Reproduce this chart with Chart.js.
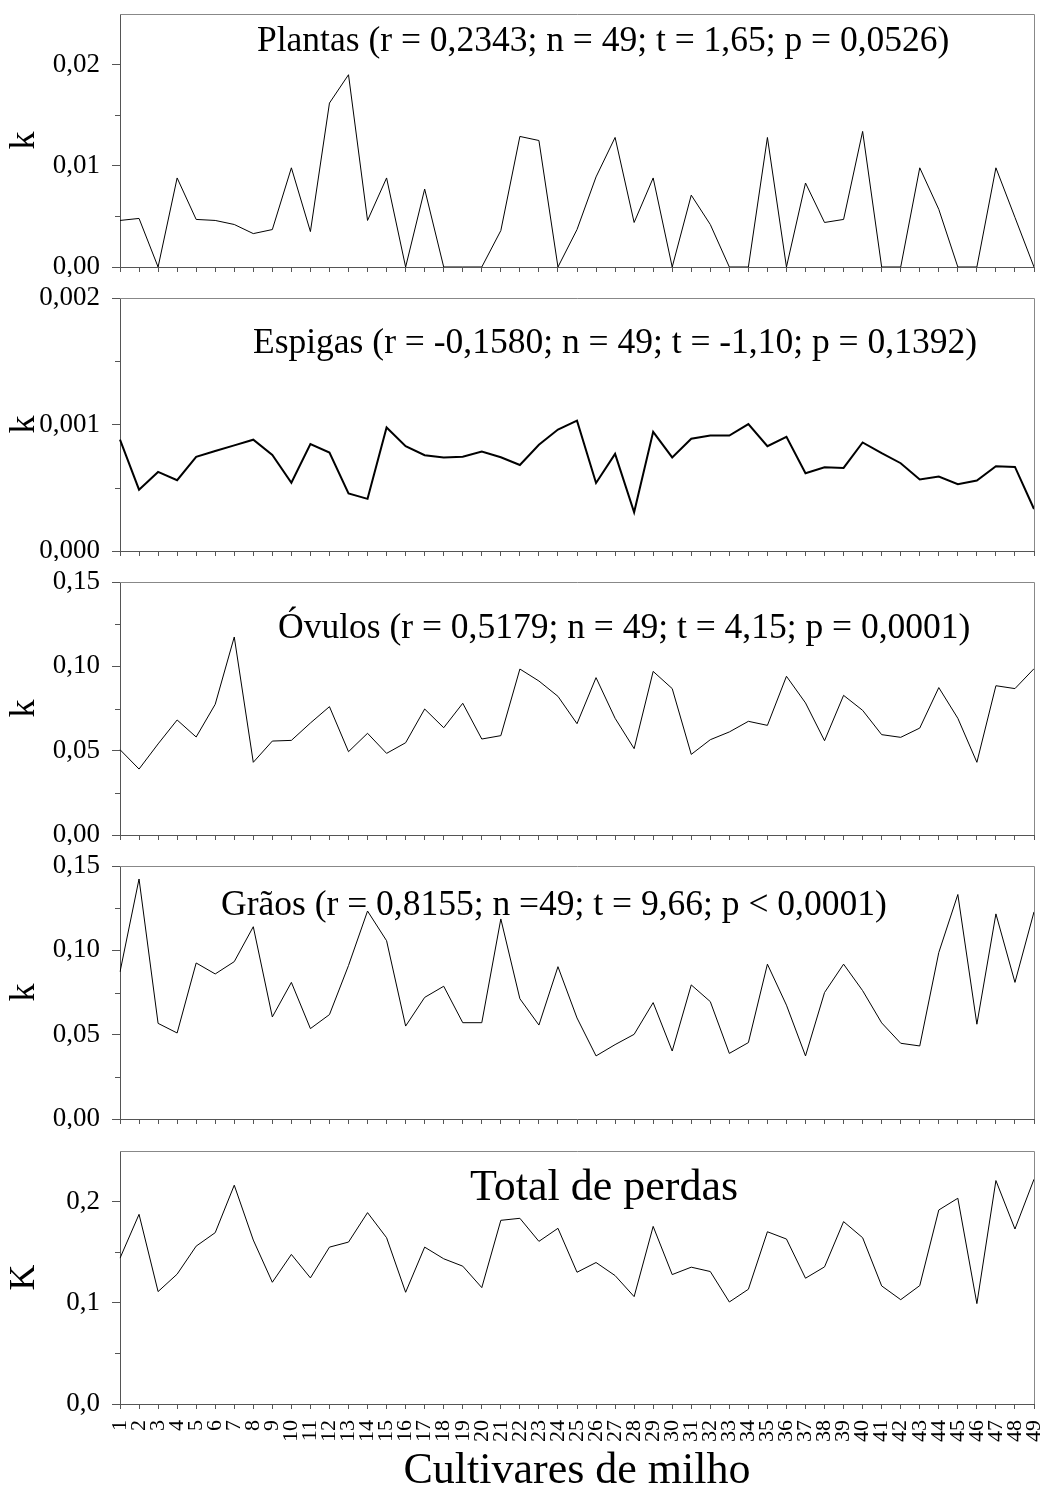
<!DOCTYPE html>
<html>
<head>
<meta charset="utf-8">
<script src="https://cdn.jsdelivr.net/npm/chart.js@4.4.1/dist/chart.umd.min.js"></script>
<style>
  body { margin: 0; background: #fff; }
  #wrap { position: relative; width: 1045px; height: 1499px; }
  canvas { position: absolute; left: 0; }
</style>
</head>
<body>
<div id="wrap"></div>
<script>
// cultivares 1..49
const cultivares = ['1','2','3','4','5','6','7','8','9','10','11','12','13','14','15','16','17','18','19','20',
  '21','22','23','24','25','26','27','28','29','30','31','32','33','34','35','36','37','38','39','40',
  '41','42','43','44','45','46','47','48','49'];

// k values
const plantas = [0.0046, 0.0048, 0, 0.0088, 0.0047, 0.0046, 0.0042, 0.0033, 0.0037, 0.0098,
  0.0035, 0.0162, 0.0190, 0.0046, 0.0088, 0, 0.0077, 0, 0, 0,
  0.0036, 0.0129, 0.0125, 0, 0.0037, 0.0089, 0.0128, 0.0044, 0.0088, 0,
  0.0071, 0.0042, 0, 0, 0.0128, 0, 0.0083, 0.0044, 0.0047, 0.0134,
  0, 0, 0.0098, 0.0057, 0, 0, 0.0098, 0.0049, 0];

const espigas = [0.00088, 0.000485, 0.000625, 0.00056, 0.000745, 0.00079, 0.000835, 0.00088, 0.00076, 0.00054,
  0.000845, 0.000778, 0.000455, 0.000412, 0.000976, 0.000828, 0.000757, 0.00074, 0.000745, 0.000786,
  0.000741, 0.00068, 0.00084, 0.00096, 0.00103, 0.000538, 0.000768, 0.000306, 0.000942, 0.00074,
  0.000887, 0.000913, 0.000913, 0.001003, 0.000828, 0.000902, 0.000615, 0.000662, 0.000657, 0.000858,
  0.000773, 0.000694, 0.000565, 0.000588, 0.000528, 0.000557, 0.00067, 0.000665, 0.000332];

const ovulos = [0.0506, 0.0391, 0.054, 0.0682, 0.0581, 0.0775, 0.1174, 0.0431, 0.0557, 0.0561,
  0.0664, 0.0761, 0.0494, 0.0603, 0.0484, 0.0547, 0.0747, 0.0636, 0.0781, 0.0569,
  0.0589, 0.0984, 0.0913, 0.0822, 0.066, 0.0933, 0.0692, 0.0512, 0.097, 0.0868,
  0.0478, 0.0565, 0.0611, 0.0674, 0.065, 0.0941, 0.0783, 0.0559, 0.0828, 0.0739,
  0.0595, 0.0579, 0.0634, 0.0874, 0.0692, 0.0431, 0.0885, 0.0868, 0.0986];

const graos = [0.0872, 0.1423, 0.0567, 0.051, 0.0925, 0.086, 0.0933, 0.114, 0.0605, 0.081,
  0.0536, 0.0619, 0.091, 0.1233, 0.1057, 0.0551, 0.0721, 0.0787, 0.0571, 0.0571,
  0.1186, 0.0713, 0.0557, 0.0903, 0.0599, 0.0374, 0.0441, 0.0502, 0.069, 0.0403,
  0.0795, 0.0696, 0.0389, 0.0453, 0.0918, 0.0675, 0.0374, 0.075, 0.0918, 0.0761,
  0.057, 0.0449, 0.0433, 0.0987, 0.1331, 0.0562, 0.1216, 0.081, 0.1228];

const total = [0.1441, 0.1874, 0.1111, 0.1283, 0.156, 0.1693, 0.2162, 0.162, 0.1203, 0.1478,
  0.1246, 0.155, 0.16, 0.1891, 0.1643, 0.1104, 0.155, 0.1435, 0.1362, 0.115,
  0.1815, 0.1835, 0.1607, 0.1736, 0.1302, 0.1398, 0.1269, 0.1061, 0.1755, 0.1279,
  0.1352, 0.1309, 0.1008, 0.1134, 0.1702, 0.163, 0.1243, 0.1355, 0.1802, 0.1643,
  0.1167, 0.1031, 0.117, 0.1917, 0.2033, 0.0992, 0.2208, 0.1729, 0.2221];

// y tick values / labels per panel
const ticksPlantas = [0, 0.01, 0.02];
const labelsPlantas = ['0,00', '0,01', '0,02'];
const ticksEspigas = [0, 0.001, 0.002];
const labelsEspigas = ['0,000', '0,001', '0,002'];
const ticksOvulos = [0, 0.05, 0.10, 0.15];
const labelsOvulos = ['0,00', '0,05', '0,10', '0,15'];
const ticksGraos = [0, 0.05, 0.10, 0.15];
const labelsGraos = ['0,00', '0,05', '0,10', '0,15'];
const ticksTotal = [0, 0.1, 0.2];
const labelsTotal = ['0,0', '0,1', '0,2'];

const FONT = '"Liberation Serif", "Times New Roman", serif';
const AXIS = '#555';

const panels = [
  { data: plantas, max: 0.025, ticks: ticksPlantas, labels: labelsPlantas, minor: [0.005, 0.015],
    yTitle: 'k', text: 'Plantas (r = 0,2343; n = 49; t = 1,65; p = 0,0526)', tx: 137, ty: 37, tSize: 35.5,
    top: 14, lw: 1 },
  { data: espigas, max: 0.002, ticks: ticksEspigas, labels: labelsEspigas, minor: [0.0005, 0.0015],
    yTitle: 'k', text: 'Espigas (r = -0,1580; n = 49; t = -1,10; p = 0,1392)', tx: 133, ty: 55, tSize: 35.5,
    top: 298, lw: 2 },
  { data: ovulos, max: 0.15, ticks: ticksOvulos, labels: labelsOvulos, minor: [0.025, 0.075, 0.125],
    yTitle: 'k', text: 'Óvulos (r = 0,5179; n = 49; t = 4,15; p = 0,0001)', tx: 158, ty: 56, tSize: 35.5,
    top: 582, lw: 1 },
  { data: graos, max: 0.15, ticks: ticksGraos, labels: labelsGraos, minor: [0.025, 0.075, 0.125],
    yTitle: 'k', text: 'Grãos (r = 0,8155; n =49; t = 9,66; p < 0,0001)', tx: 101, ty: 49, tSize: 35.5,
    top: 866, lw: 1 },
  { data: total, max: 0.25, ticks: ticksTotal, labels: labelsTotal, minor: [0.05, 0.15],
    yTitle: 'K', text: 'Total de perdas', tx: 350, ty: 49, tSize: 44,
    top: 1151, lw: 1, last: true }
];

const PLOT_H = 253;
const PAD_TOP = 14;
const wrap = document.getElementById('wrap');

panels.forEach(p => {
  const xH = p.last ? (1499 - (p.top - PAD_TOP) - PAD_TOP - PLOT_H) : 10;
  const h = PAD_TOP + PLOT_H + xH;
  const canvas = document.createElement('canvas');
  canvas.width = 1045;
  canvas.height = h;
  canvas.style.top = (p.top - PAD_TOP) + 'px';
  canvas.style.width = '1045px';
  canvas.style.height = h + 'px';
  wrap.appendChild(canvas);

  // frame on top/right, short minor ticks, panel caption
  const decor = {
    id: 'decor',
    afterDraw(chart) {
      const { ctx, chartArea: a } = chart;
      const ys = chart.scales.y;
      ctx.save();
      ctx.strokeStyle = '#888';
      ctx.lineWidth = 1;
      ctx.beginPath();
      ctx.moveTo(Math.round(a.left), Math.round(a.top) + 0.5);
      ctx.lineTo(Math.round(a.right) + 0.5, Math.round(a.top) + 0.5);
      ctx.lineTo(Math.round(a.right) + 0.5, Math.round(a.bottom));
      ctx.stroke();
      ctx.strokeStyle = AXIS;
      ctx.beginPath();
      p.minor.forEach(v => {
        const y = Math.round(ys.getPixelForValue(v)) + 0.5;
        ctx.moveTo(a.left - 5, y);
        ctx.lineTo(a.left, y);
      });
      ctx.stroke();
      ctx.fillStyle = '#000';
      ctx.font = p.tSize + 'px ' + FONT;
      ctx.textAlign = 'left';
      ctx.textBaseline = 'alphabetic';
      ctx.fillText(p.text, a.left + p.tx, a.top + p.ty);
      ctx.restore();
    }
  };

  new Chart(canvas, {
    type: 'line',
    data: {
      labels: cultivares,
      datasets: [{
        data: p.data,
        borderColor: '#000',
        borderWidth: p.lw,
        pointRadius: 0,
        tension: 0,
        fill: false
      }]
    },
    options: {
      responsive: false,
      animation: false,
      events: [],
      layout: { padding: { top: PAD_TOP, right: 11, bottom: 0, left: 0 } },
      plugins: { legend: { display: false }, tooltip: { enabled: false } },
      scales: {
        x: {
          type: 'category',
          offset: false,
          grid: { drawOnChartArea: false, drawTicks: true, tickLength: 5, color: AXIS },
          border: { display: true, color: AXIS, width: 1 },
          ticks: {
            display: !!p.last,
            autoSkip: false,
            minRotation: 90,
            maxRotation: 90,
            padding: 11,
            color: '#000',
            font: { family: FONT, size: 22 }
          },
          title: {
            display: !!p.last,
            text: 'Cultivares de milho',
            color: '#000',
            font: { family: FONT, size: 44 },
            padding: { top: 0, bottom: 1 }
          },
          afterFit(s) { s.height = xH; s.paddingLeft = 0; s.paddingRight = 0; }
        },
        y: {
          min: 0,
          max: p.max,
          afterBuildTicks(s) { s.ticks = p.ticks.map(v => ({ value: v })); },
          ticks: {
            callback: (v, i) => p.labels[i],
            padding: 12,
            color: '#000',
            font: { family: FONT, size: 27 }
          },
          grid: { drawOnChartArea: false, drawTicks: true, tickLength: 8, color: AXIS },
          border: { display: true, color: AXIS, width: 1 },
          title: {
            display: true,
            text: p.yTitle,
            color: '#000',
            font: { family: FONT, size: 36 },
            padding: { top: 3, bottom: 0 }
          },
          afterFit(s) { s.width = 120; s.paddingTop = 0; s.paddingBottom = 0; }
        }
      }
    },
    plugins: [decor]
  });
});
</script>
</body>
</html>
